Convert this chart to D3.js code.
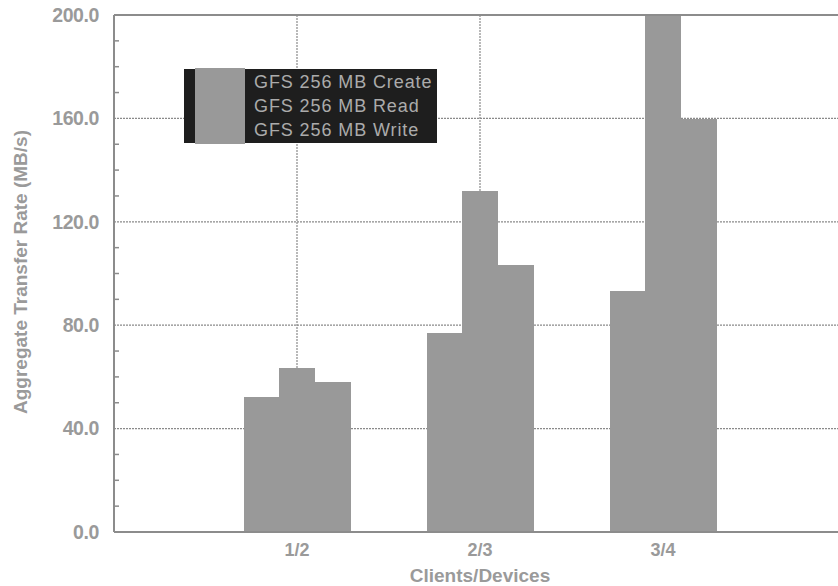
<!DOCTYPE html>
<html>
<head>
<meta charset="utf-8">
<script src="https://cdn.jsdelivr.net/npm/d3@7"></script>
<style>
  body { margin: 0; background: #fff; }
  svg { display: block; }
  text { font-family: "Liberation Sans", Arial, Helvetica, sans-serif; font-weight: bold; fill: #9a9a9a; }
</style>
</head>
<body>
<svg id="chart" width="838" height="586"></svg>
<script>
// values (MB/s)
const categories = ['1/2', '2/3', '3/4']
const seriesNames = ['GFS 256 MB Create', 'GFS 256 MB Read', 'GFS 256 MB Write']
const createVals = [52.1, 76.9, 93.3]
const readVals = [63.3, 132.0, 200.0]
const writeVals = [57.9, 103.3, 159.8]
const yTicks = [0, 40, 80, 120, 160, 200]

const width = 838
const height = 586
const margin = { top: 15, left: 114, bottom: 54 }

const svg = d3.select('#chart')

// x is a linear position: category i sits at i + 1, plot runs 0..4 (right edge is cut off)
const x = d3.scaleLinear().domain([0, 4]).range([margin.left, 846])
const y = d3.scaleLinear().domain([0, 200]).range([height - margin.bottom, margin.top])
const inner = d3.scaleBand().domain(seriesNames).range([-53.5, 53.5]).padding(0)

const data = categories.map((c, i) => ({
  cat: c,
  pos: i + 1,
  values: [createVals[i], readVals[i], writeVals[i]]
}))

const gridColor = '#8a8a8a'

// horizontal grid
svg.append('g')
  .selectAll('line')
  .data(yTicks.filter(d => d > 0 && d < 200))
  .enter().append('line')
  .attr('x1', x(0)).attr('x2', width)
  .attr('y1', d => y(d)).attr('y2', d => y(d))
  .attr('stroke', gridColor)
  .attr('stroke-width', 1.2)
  .attr('stroke-dasharray', '2,1')

// vertical grid at each category
svg.append('g')
  .selectAll('line')
  .data(data)
  .enter().append('line')
  .attr('x1', d => x(d.pos)).attr('x2', d => x(d.pos))
  .attr('y1', y(200)).attr('y2', y(0))
  .attr('stroke', gridColor)
  .attr('stroke-width', 1.2)
  .attr('stroke-dasharray', '2,1')

// bars
const groups = svg.append('g')
  .selectAll('g')
  .data(data)
  .enter().append('g')
  .attr('transform', d => `translate(${x(d.pos)},0)`)

groups.selectAll('rect')
  .data(d => d.values.map((v, j) => ({ name: seriesNames[j], v: Math.min(v, 200) })))
  .enter().append('rect')
  .attr('x', d => inner(d.name))
  .attr('width', inner.bandwidth() + 0.5)
  .attr('y', d => y(d.v))
  .attr('height', d => y(0) - y(d.v))
  .attr('shape-rendering', 'crispEdges')
  .style('fill', '#999999')

// frame: left, bottom, top
const axisColor = '#8c8c8c'
svg.append('line')
  .attr('x1', x(0)).attr('x2', x(0))
  .attr('y1', y(200)).attr('y2', y(0))
  .attr('stroke', axisColor).attr('stroke-width', 2)
svg.append('line')
  .attr('x1', x(0)).attr('x2', width)
  .attr('y1', y(0)).attr('y2', y(0))
  .attr('stroke', axisColor).attr('stroke-width', 2)
svg.append('line')
  .attr('x1', x(0)).attr('x2', width)
  .attr('y1', y(200)).attr('y2', y(200))
  .attr('stroke', axisColor).attr('stroke-width', 2)

// minor ticks every 10 units, pointing inward
svg.append('g')
  .selectAll('line')
  .data(d3.range(10, 200, 10).filter(d => d % 40 !== 0))
  .enter().append('line')
  .attr('x1', x(0)).attr('x2', x(0) + 5)
  .attr('y1', d => y(d)).attr('y2', d => y(d))
  .attr('stroke', axisColor).attr('stroke-width', 1.5)

// y tick labels
const yAxis = d3.axisLeft(y).tickValues(yTicks).tickFormat(d3.format('.1f')).tickSize(0).tickPadding(15)
const ya = svg.append('g').attr('transform', `translate(${x(0)},0)`).call(yAxis)
ya.select('.domain').remove()
ya.selectAll('text')
  .style('font-size', '19.5px')
  .style('font-family', '"Liberation Sans", Arial, sans-serif')
  .style('font-weight', 'bold')
  .attr('fill', '#9a9a9a')
  .attr('letter-spacing', '-0.4')

// x tick labels
svg.append('g')
  .selectAll('text')
  .data(data)
  .enter().append('text')
  .attr('x', d => x(d.pos))
  .attr('y', y(0) + 24)
  .attr('text-anchor', 'middle')
  .style('font-size', '18px')
  .text(d => d.cat)

// axis titles
svg.append('text')
  .attr('x', 480)
  .attr('y', 582)
  .attr('text-anchor', 'middle')
  .style('font-size', '19px')
  .text('Clients/Devices')

svg.append('text')
  .attr('transform', 'translate(27,272) rotate(-90)')
  .attr('text-anchor', 'middle')
  .style('font-size', '19px')
  .text('Aggregate Transfer Rate (MB/s)')

// legend
const legend = svg.append('g').attr('transform', 'translate(184,69)')
legend.append('rect')
  .attr('width', 253).attr('height', 74)
  .attr('fill', '#1e1e1e')
legend.append('rect')
  .attr('x', 11).attr('y', -1)
  .attr('width', 50).attr('height', 76)
  .attr('fill', '#999999')
legend.selectAll('text.lg')
  .data(seriesNames)
  .enter().append('text')
  .attr('class', 'lg')
  .attr('x', 70)
  .attr('y', (d, i) => 19 + i * 24)
  .style('font-size', '18px')
  .style('font-weight', 'normal')
  .attr('letter-spacing', '0.9')
  .style('fill', '#ababab')
  .text(d => d)
</script>
</body>
</html>
